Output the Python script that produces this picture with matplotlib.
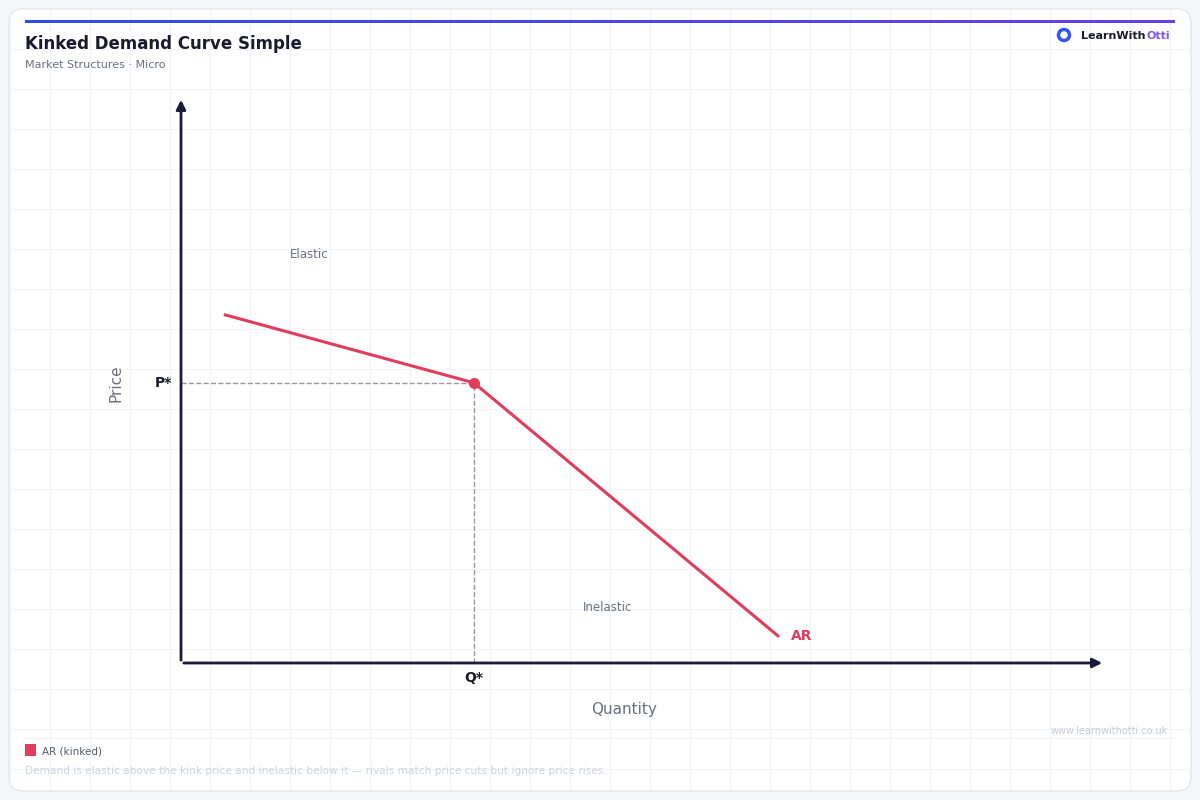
import matplotlib
matplotlib.use("Agg")
import matplotlib.pyplot as plt
from matplotlib.patches import FancyBboxPatch, Rectangle
from matplotlib.colors import LinearSegmentedColormap
import numpy as np

# data
curve_q = [0.48, 3.17, 6.46]
curve_p = [6.15, 4.95, 0.48]
kink_q, kink_p = 3.17, 4.95
series_label = "AR (kinked)"
title = "Kinked Demand Curve Simple"
subtitle = "Market Structures · Micro"
footnote = "Demand is elastic above the kink price and inelastic below it — rivals match price cuts but ignore price rises."

W, H = 1200, 800
fig = plt.figure(figsize=(12, 8), dpi=100)
fig.patch.set_facecolor("#f6f7fb")
bg = fig.add_axes([0, 0, 1, 1])
bg.set_xlim(0, W); bg.set_ylim(H, 0); bg.axis("off")
bg.add_patch(FancyBboxPatch((9, 9), W-18, H-18, boxstyle="round,pad=0,rounding_size=14",
                            fc="white", ec="#e3e5ec", lw=1))
for x in range(10, W-9, 40):
    bg.plot([x, x], [10, H-10], color="#f2f2f9", lw=0.8, zorder=1)
for y in range(9, H-9, 40):
    bg.plot([10, W-10], [y, y], color="#f2f2f9", lw=0.8, zorder=1)
grad = np.linspace(0, 1, 256)[None, :]
cm = LinearSegmentedColormap.from_list("g", ["#2f4fe0", "#6b3fe0"])
bg.imshow(grad, cmap=cm, extent=[25, 1175, 23, 20], aspect="auto", zorder=3)
bg.set_xlim(0, W); bg.set_ylim(H, 0)
bg.text(25, 44, title, fontsize=12, fontweight="bold", color="#1a1a2e", va="center")
bg.text(25, 65, subtitle, fontsize=8, color="#6b7080", va="center")
bg.add_patch(plt.Circle((1064, 35), 5.5, fc="white", ec="#3355ee", lw=2.5, zorder=4))
t_otti = bg.text(1170, 36, "Otti", fontsize=8, fontweight="bold", color="#7b5cf0", va="center", ha="right")
bg.text(1146, 36, "LearnWith", fontsize=8, fontweight="bold", color="#1a1a2e", va="center", ha="right")
bg.plot([25, 1175], [738, 738], color="#f2f2f9", lw=0.8)
bg.text(1168, 731, "www.learnwithotti.co.uk", fontsize=7, color="#c8ccd8", ha="right", va="center")
bg.add_patch(Rectangle((25, 744), 11, 12, fc="#e03c5c", ec="none", zorder=4))
bg.text(42, 751, series_label, fontsize=7.5, color="#555a6a", va="center")
bg.text(25, 771, footnote, fontsize=7.6, color="#cfd3dd", va="center")

ax = fig.add_axes([181/W, 1-663/H, (1105-181)/W, (663-97)/H])
ax.set_xlim(0, 10); ax.set_ylim(0, 10)
ax.axis("off"); ax.patch.set_alpha(0)
ax.annotate("", xy=(10, 0), xytext=(0, 0), arrowprops=dict(arrowstyle="-|>", color="#1a1a3a", lw=2, mutation_scale=14), annotation_clip=False)
ax.annotate("", xy=(0, 10), xytext=(0, 0), arrowprops=dict(arrowstyle="-|>", color="#1a1a3a", lw=2, mutation_scale=14), annotation_clip=False)
ax.plot([0, kink_q], [kink_p, kink_p], ls="--", color="#999999", lw=1)
ax.plot([kink_q, kink_q], [0, kink_p], ls="--", color="#999999", lw=1)
ax.plot(curve_q, curve_p, color="#e03c5c", lw=2.2)
ax.plot([kink_q], [kink_p], "o", color="#e03c5c", ms=7)
ax.text(-0.1, kink_p, "P*", fontsize=10, fontweight="bold", color="#1a1a2e", ha="right", va="center")
ax.text(kink_q, -0.27, "Q*", fontsize=10, fontweight="bold", color="#1a1a2e", ha="center", va="center")
ax.text(6.6, 0.48, "AR", fontsize=10, fontweight="bold", color="#e03c5c", va="center")
ax.text(1.39, 7.22, "Elastic", fontsize=8.5, color="#6b7080", ha="center", va="center")
ax.text(4.62, 0.98, "Inelastic", fontsize=8.5, color="#6b7080", ha="center", va="center")
ax.text(4.8, -0.83, "Quantity", fontsize=11, color="#6b7080", ha="center", va="center")
ax.text(-0.7, 4.95, "Price", fontsize=11, color="#6b7080", ha="center", va="center", rotation=90)

fig.savefig("out.png", dpi=100)
